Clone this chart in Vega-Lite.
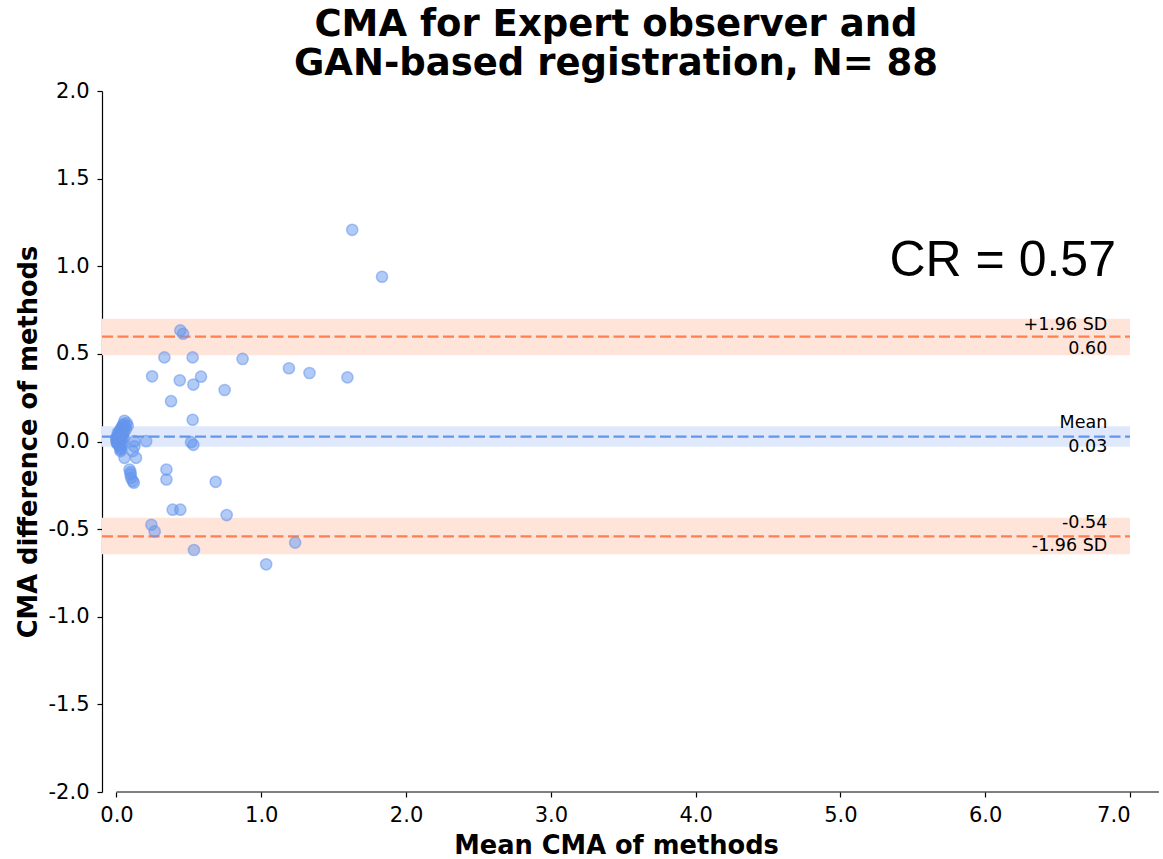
{
  "$schema": "https://vega.github.io/schema/vega-lite/v6.json",
  "width": 1028,
  "height": 701,
  "autosize": {"type": "none"},
  "padding": {"left": 102, "top": 91, "right": 33, "bottom": 67},
  "background": "white",
  "title": {
    "text": ["CMA for Expert observer and", "GAN-based registration, N= 88"],
    "font": "DejaVu Sans",
    "fontSize": 37,
    "fontWeight": "bold",
    "color": "black",
    "anchor": "middle",
    "offset": 0,
    "dy": 3,
    "lineHeight": 39
  },
  "config": {
    "view": {"stroke": null},
    "axis": {
      "labelFont": "DejaVu Sans",
      "labelFontSize": 21,
      "labelColor": "black",
      "titleFont": "DejaVu Sans",
      "titleFontSize": 25.7,
      "titleFontWeight": "bold",
      "titleColor": "black",
      "tickSize": 5,
      "tickColor": "black",
      "tickWidth": 1.2,
      "domainColor": "black",
      "domainWidth": 1.2,
      "grid": false
    }
  },
  "datasets": {
    "points": [
      {"mean": 1.628, "diff": 1.208}, {"mean": 1.834, "diff": 0.94}, {"mean": 0.441, "diff": 0.634},
      {"mean": 0.46, "diff": 0.615}, {"mean": 0.331, "diff": 0.48}, {"mean": 0.526, "diff": 0.48},
      {"mean": 0.871, "diff": 0.471}, {"mean": 1.191, "diff": 0.418}, {"mean": 1.333, "diff": 0.391},
      {"mean": 1.595, "diff": 0.366}, {"mean": 0.246, "diff": 0.372}, {"mean": 0.584, "diff": 0.37},
      {"mean": 0.437, "diff": 0.349}, {"mean": 0.531, "diff": 0.325}, {"mean": 0.747, "diff": 0.294},
      {"mean": 0.377, "diff": 0.23}, {"mean": 0.526, "diff": 0.124}, {"mean": 0.515, "diff": -0.004},
      {"mean": 0.531, "diff": -0.019}, {"mean": 0.685, "diff": -0.23}, {"mean": 0.345, "diff": -0.16},
      {"mean": 0.345, "diff": -0.217}, {"mean": 0.388, "diff": -0.389}, {"mean": 0.441, "diff": -0.389},
      {"mean": 0.761, "diff": -0.42}, {"mean": 0.241, "diff": -0.475}, {"mean": 0.264, "diff": -0.513},
      {"mean": 0.535, "diff": -0.619}, {"mean": 1.234, "diff": -0.577}, {"mean": 1.034, "diff": -0.701},
      {"mean": 0.055, "diff": 0.118}, {"mean": 0.078, "diff": 0.09}, {"mean": 0.043, "diff": 0.092},
      {"mean": 0.032, "diff": 0.068}, {"mean": 0.009, "diff": 0.05}, {"mean": 0.02, "diff": 0.04},
      {"mean": -0.002, "diff": 0.021}, {"mean": 0.009, "diff": 0.002}, {"mean": 0.02, "diff": -0.017},
      {"mean": 0.028, "diff": -0.046}, {"mean": 0.055, "diff": -0.093}, {"mean": 0.124, "diff": 0.002},
      {"mean": 0.124, "diff": -0.027}, {"mean": 0.112, "diff": -0.055}, {"mean": 0.135, "diff": -0.093},
      {"mean": 0.205, "diff": 0.002}, {"mean": 0.09, "diff": -0.16}, {"mean": 0.097, "diff": -0.188},
      {"mean": 0.101, "diff": -0.207}, {"mean": 0.112, "diff": -0.226}, {"mean": 0.12, "diff": -0.235},
      {"mean": 0.097, "diff": -0.175}, {"mean": 0.028, "diff": -0.055}, {"mean": 0.016, "diff": 0.03},
      {"mean": 0.005, "diff": -0.007},
      {"mean": 0.0, "diff": 0.0}, {"mean": 0.002, "diff": 0.01}, {"mean": 0.004, "diff": -0.004},
      {"mean": 0.006, "diff": 0.015}, {"mean": 0.008, "diff": 0.025}, {"mean": 0.01, "diff": -0.01},
      {"mean": 0.012, "diff": 0.035}, {"mean": 0.014, "diff": 0.005}, {"mean": 0.016, "diff": -0.02},
      {"mean": 0.018, "diff": 0.045}, {"mean": 0.02, "diff": 0.055}, {"mean": 0.022, "diff": 0.012},
      {"mean": 0.024, "diff": -0.03}, {"mean": 0.026, "diff": 0.062}, {"mean": 0.028, "diff": 0.02},
      {"mean": 0.03, "diff": -0.04}, {"mean": 0.032, "diff": 0.075}, {"mean": 0.034, "diff": 0.03},
      {"mean": 0.036, "diff": 0.008}, {"mean": 0.038, "diff": -0.025}, {"mean": 0.04, "diff": 0.08},
      {"mean": 0.042, "diff": 0.044}, {"mean": 0.044, "diff": -0.01}, {"mean": 0.046, "diff": 0.065},
      {"mean": 0.048, "diff": 0.02}, {"mean": 0.05, "diff": 0.1}, {"mean": 0.052, "diff": 0.05},
      {"mean": 0.06, "diff": 0.085}, {"mean": 0.065, "diff": 0.07}, {"mean": 0.07, "diff": 0.105},
      {"mean": 0.003, "diff": 0.018}, {"mean": 0.007, "diff": -0.015}, {"mean": 0.013, "diff": 0.022}
    ],
    "bands": [
      {"kind": "limit", "x0": -0.1, "x1": 7.0, "lo": 0.492, "hi": 0.701},
      {"kind": "mean", "x0": -0.1, "x1": 7.0, "lo": -0.03, "hi": 0.087},
      {"kind": "limit", "x0": -0.1, "x1": 7.0, "lo": -0.644, "hi": -0.435}
    ],
    "lines": [
      {"kind": "limit", "x0": -0.1, "x1": 7.0, "y": 0.598},
      {"kind": "mean", "x0": -0.1, "x1": 7.0, "y": 0.028},
      {"kind": "limit", "x0": -0.1, "x1": 7.0, "y": -0.541}
    ],
    "labels": [
      {"x": 6.843, "y": 0.667, "label": "+1.96 SD"},
      {"x": 6.843, "y": 0.53, "label": "0.60"},
      {"x": 6.843, "y": 0.103, "label": "Mean"},
      {"x": 6.843, "y": -0.034, "label": "0.03"},
      {"x": 6.843, "y": -0.467, "label": "-0.54"},
      {"x": 6.843, "y": -0.598, "label": "-1.96 SD"}
    ],
    "cr": [{"x": 6.903, "y": 0.942, "label": "CR = 0.57"}],
    "xaxis": [{"x0": 0, "x1": 7.2, "y": -2}]
  },
  "layer": [
    {
      "data": {"name": "bands"},
      "mark": {"type": "rect"},
      "encoding": {
        "x": {"field": "x0", "type": "quantitative", "scale": {"domain": [-0.1, 7.0], "nice": false, "zero": false},
          "axis": {"title": "Mean CMA of methods", "values": [0, 1, 2, 3, 4, 5, 6, 7], "format": ".1f", "domain": false, "labelPadding": 7, "titlePadding": 8}},
        "x2": {"field": "x1"},
        "y": {"field": "lo", "type": "quantitative", "scale": {"domain": [-2, 2], "nice": false, "zero": false},
          "axis": {"title": "CMA difference of methods", "values": [-2, -1.5, -1, -0.5, 0, 0.5, 1, 1.5, 2], "labelExpr": "replace(format(datum.value, '.1f'), '\u2212', '-')", "labelPadding": 8, "titlePadding": 7}},
        "y2": {"field": "hi"},
        "fill": {"field": "kind", "type": "nominal", "scale": {"domain": ["limit", "mean"], "range": ["#FFE4DA", "#DFE9FB"]}, "legend": null}
      }
    },
    {
      "data": {"name": "lines"},
      "mark": {"type": "rule", "strokeWidth": 2.3, "strokeDash": [11, 4.5]},
      "encoding": {
        "x": {"field": "x0", "type": "quantitative"},
        "x2": {"field": "x1"},
        "y": {"field": "y", "type": "quantitative"},
        "stroke": {"field": "kind", "type": "nominal", "scale": {"domain": ["limit", "mean"], "range": ["#FF7F50", "#6495ED"]}, "legend": null}
      }
    },
    {
      "data": {"name": "xaxis"},
      "mark": {"type": "rule", "color": "black", "strokeWidth": 1.2, "clip": false},
      "encoding": {
        "x": {"field": "x0", "type": "quantitative"},
        "x2": {"field": "x1"},
        "y": {"field": "y", "type": "quantitative"}
      }
    },
    {
      "data": {"name": "points"},
      "mark": {"type": "circle", "size": 125, "fill": "#6495ED", "fillOpacity": 0.5, "stroke": "#6495ED", "strokeOpacity": 0.55, "strokeWidth": 1.5},
      "encoding": {
        "x": {"field": "mean", "type": "quantitative"},
        "y": {"field": "diff", "type": "quantitative"}
      }
    },
    {
      "data": {"name": "labels"},
      "mark": {"type": "text", "align": "right", "baseline": "middle", "font": "DejaVu Sans", "fontSize": 17.5, "color": "black"},
      "encoding": {
        "x": {"field": "x", "type": "quantitative"},
        "y": {"field": "y", "type": "quantitative"},
        "text": {"field": "label"}
      }
    },
    {
      "data": {"name": "cr"},
      "mark": {"type": "text", "align": "right", "baseline": "alphabetic", "font": "Liberation Sans", "fontSize": 50, "color": "black"},
      "encoding": {
        "x": {"field": "x", "type": "quantitative"},
        "y": {"field": "y", "type": "quantitative"},
        "text": {"field": "label"}
      }
    }
  ]
}
